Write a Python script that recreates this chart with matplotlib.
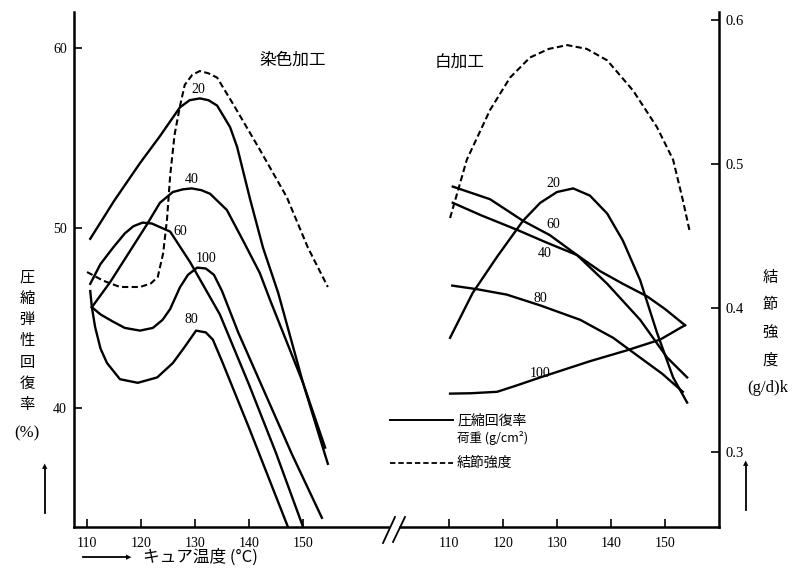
import matplotlib
matplotlib.use('Agg')
import matplotlib.pyplot as plt
from matplotlib.lines import Line2D

# fonts: Japanese text in Noto CJK, numbers in a serif face
JP = ['Noto Sans CJK JP', 'DejaVu Sans']
SERIF = 'Liberation Serif'
plt.rcParams['font.family'] = JP

# ---- data ----
# left panel: 染色加工, compression recovery (%) per load (g/cm2)
dye_20_x = [110.6, 115, 119.8, 123.5, 127.2, 129, 130.9, 132.5, 134.1, 136.5, 137.8, 140.2, 142.6, 145.4, 150, 154.1]
dye_20_y = [49.4, 51.5, 53.6, 55.1, 56.7, 57.1, 57.2, 57.1, 56.8, 55.6, 54.5, 51.6, 48.9, 46.4, 41.4, 37.8]
dye_40_x = [110.9, 114.3, 121.1, 123.5, 125.9, 127.8, 129.4, 131.2, 132.8, 135.9, 138.9, 142, 143.9, 150, 154.6]
dye_40_y = [45.6, 47.0, 50.2, 51.4, 52.0, 52.15, 52.2, 52.1, 51.9, 51.0, 49.3, 47.5, 46.0, 41.4, 36.9]
dye_60_x = [110.6, 112.5, 114.8, 117, 118.6, 120.3, 122, 125.4, 129.1, 134.6, 140, 145, 150]
dye_60_y = [46.9, 48.0, 48.9, 49.7, 50.1, 50.3, 50.25, 49.8, 48.1, 45.2, 41.3, 37.5, 33.4]
dye_80_x = [110.6, 110.9, 111.5, 112.5, 113.7, 116.1, 119.4, 123, 125.9, 128.1, 130.2, 132, 133.3, 135, 140, 147.2]
dye_80_y = [46.5, 45.6, 44.5, 43.3, 42.5, 41.6, 41.4, 41.7, 42.5, 43.4, 44.3, 44.2, 43.8, 42.6, 38.9, 33.4]
dye_100_x = [110.9, 112.5, 114.8, 117, 119.8, 122.2, 124, 125.4, 127.2, 128.7, 130.4, 132, 133.5, 135, 138, 143, 148, 153.5]
dye_100_y = [45.6, 45.2, 44.8, 44.45, 44.3, 44.45, 44.9, 45.5, 46.7, 47.4, 47.8, 47.75, 47.4, 46.5, 44.2, 40.8, 37.4, 33.9]
# left panel knot strength (g/d)
dye_str_x = [110, 113, 116.1, 119.8, 121.8, 123.1, 124.1, 124.8, 125.4, 126.2, 127.2, 128.1, 129.5, 130.9, 132.5,
             134.1, 137, 142, 147, 150.9, 154.6]
dye_str_y = [0.425, 0.419, 0.4146, 0.4146, 0.417, 0.4215, 0.438, 0.461, 0.492, 0.52, 0.540, 0.555, 0.562, 0.5646,
             0.563, 0.560, 0.542, 0.510, 0.477, 0.442, 0.4146]

# right panel: 白加工
wht_20_x = [110.2, 114.4, 118.9, 123.7, 126.9, 130, 133, 136.1, 139.3, 142.2, 145.4, 148.5, 151.5, 154.1]
wht_20_y = [43.9, 46.4, 48.4, 50.4, 51.4, 52.0, 52.2, 51.8, 50.8, 49.3, 47.1, 44.2, 41.7, 40.3]
wht_40_x = [110.7, 116, 122.6, 128, 133.7, 138, 142.2, 146.7, 150, 153.7]
wht_40_y = [51.4, 50.7, 49.9, 49.2, 48.5, 47.6, 46.9, 46.2, 45.5, 44.6]
wht_60_x = [110.7, 117.6, 123.7, 128.7, 133.7, 139.3, 145.4, 150.4, 154.1]
wht_60_y = [52.3, 51.6, 50.4, 49.6, 48.5, 46.9, 44.9, 42.8, 41.7]
wht_80_x = [110.6, 115.2, 120.7, 126.9, 134.3, 140.4, 145.4, 149.5, 153.3]
wht_80_y = [46.8, 46.6, 46.3, 45.7, 44.9, 43.9, 42.8, 41.9, 40.9]
wht_100_x = [110.2, 114, 118.9, 122.5, 126.9, 131.5, 136.1, 142.9, 149.1, 153.7]
wht_100_y = [40.8, 40.82, 40.9, 41.25, 41.7, 42.15, 42.6, 43.2, 43.8, 44.6]
wht_str_x = [110.2, 113.3, 117.6, 121.3, 125, 128.5, 131.9, 135.5, 139.3, 144.1, 148.5, 151.5, 153.3, 154.6]
wht_str_y = [0.4625, 0.503, 0.5375, 0.560, 0.574, 0.580, 0.5826, 0.580, 0.572, 0.551, 0.5257, 0.503, 0.475, 0.4528]

# curve labels: (text, x, y)
dye_labels = [('20', 130.6, 57.7), ('40', 129.4, 52.7), ('60', 127.2, 49.8),
              ('100', 132.0, 48.3), ('80', 129.4, 44.9)]
wht_labels = [('20', 129.3, 52.5), ('60', 129.3, 50.2), ('40', 127.8, 48.6),
              ('80', 126.9, 46.1), ('100', 126.9, 41.9)]

x_ticks = [110, 120, 130, 140, 150]
rec_ticks = [40, 50, 60]
str_ticks = [0.3, 0.4, 0.5, 0.6]

W, H = 804, 574


def fx(px):
    return px / W


def fy(py):
    return 1 - py / H


def serif_ticks(ax):
    for t in ax.get_xticklabels() + ax.get_yticklabels():
        t.set_fontfamily(SERIF)


fig = plt.figure(figsize=(8.04, 5.74), dpi=100)
ax1 = fig.add_axes([fx(74), fy(527), fx(388) - fx(74), fy(12) - fy(527)])
ax2 = fig.add_axes([fx(400), fy(527), fx(719) - fx(400), fy(12) - fy(527)])
ax1s = ax1.twinx()
ax2s = ax2.twinx()

ax1.set_xlim(107.59, 165.74)
ax2.set_xlim(100.93, 160.0)
for ax in (ax1, ax2):
    ax.set_ylim(33.39, 62.0)
for ax in (ax1s, ax2s):
    ax.set_ylim(0.2479, 0.6056)

lw = 1.7
for xs, ys in [(dye_20_x, dye_20_y), (dye_40_x, dye_40_y), (dye_60_x, dye_60_y),
               (dye_80_x, dye_80_y), (dye_100_x, dye_100_y)]:
    ax1.plot(xs, ys, color='black', lw=lw, solid_joinstyle='round', clip_on=False)
for xs, ys in [(wht_20_x, wht_20_y), (wht_40_x, wht_40_y), (wht_60_x, wht_60_y),
               (wht_80_x, wht_80_y), (wht_100_x, wht_100_y)]:
    ax2.plot(xs, ys, color='black', lw=lw, solid_joinstyle='round', clip_on=False)
ax1s.plot(dye_str_x, dye_str_y, color='black', lw=1.5, ls=(0, (3, 1.6)))
ax2s.plot(wht_str_x, wht_str_y, color='black', lw=1.5, ls=(0, (3, 1.6)))

for txt, x, y in dye_labels:
    ax1.text(x, y, txt, ha='center', va='center', fontsize=10, family=SERIF)
for txt, x, y in wht_labels:
    ax2.text(x, y, txt, ha='center', va='center', fontsize=10, family=SERIF)

# axes styling
for ax in (ax1, ax2, ax1s, ax2s):
    for s in ax.spines.values():
        s.set_visible(False)
        s.set_linewidth(1.8)
ax1.spines['left'].set_visible(True)
ax1.spines['bottom'].set_visible(True)
ax2.spines['bottom'].set_visible(True)
ax2s.spines['right'].set_visible(True)

ax1.set_xticks(x_ticks)
ax1.set_yticks(rec_ticks)
ax1.tick_params(axis='x', direction='in', length=6, width=1.2, labelsize=10, pad=7)
ax1.tick_params(axis='y', direction='in', length=6, width=1.2, labelsize=10, pad=5)
ax2.set_xticks(x_ticks)
ax2.set_yticks([])
ax2.tick_params(axis='x', direction='in', length=6, width=1.2, labelsize=10, pad=7)
ax1s.set_yticks([])
ax2s.set_yticks(str_ticks)
ax2s.set_yticklabels(['0.3', '0.4', '0.5', '0.6'])
ax2s.tick_params(axis='y', direction='in', length=6, width=1.2, labelsize=10.5, pad=5)
for ax in (ax1, ax2, ax2s):
    serif_ticks(ax)

# panel titles
fig.text(fx(293), fy(60), '染色加工', ha='center', va='center', fontsize=12)
fig.text(fx(460), fy(62), '白加工', ha='center', va='center', fontsize=12)

# left axis title, written vertically
for i, ch in enumerate('圧縮弾性回復率'):
    fig.text(fx(27), fy(277 + i * 21.3), ch, ha='center', va='center', fontsize=11)
fig.text(fx(27), fy(433), '(%)', ha='center', va='center', fontsize=12, family=SERIF)
fig.add_artist(Line2D([fx(45), fx(45)], [fy(513), fy(468)], color='black', lw=1.3))
fig.text(fx(45), fy(466), '▲', ha='center', va='center', fontsize=5, family='DejaVu Sans')

# right axis title
for i, ch in enumerate('結節強度'):
    fig.text(fx(770), fy(277 + i * 27.7), ch, ha='center', va='center', fontsize=11)
fig.text(fx(768), fy(388), '(g/d)k', ha='center', va='center', fontsize=12, family=SERIF)
fig.add_artist(Line2D([fx(746), fx(746)], [fy(510), fy(465)], color='black', lw=1.3))
fig.text(fx(746), fy(463), '▲', ha='center', va='center', fontsize=5, family='DejaVu Sans')

# x axis title with arrow
fig.add_artist(Line2D([fx(83), fx(126)], [fy(557), fy(557)], color='black', lw=1.3))
fig.text(fx(129), fy(557), '▶', ha='center', va='center', fontsize=5, family='DejaVu Sans')
fig.text(fx(143), fy(557), 'キュア温度 (°C)', ha='left', va='center', fontsize=12)

# legend
fig.add_artist(Line2D([fx(390), fx(453)], [fy(420), fy(420)], color='black', lw=1.4))
fig.text(fx(457), fy(421), '圧縮回復率', ha='left', va='center', fontsize=10)
fig.text(fx(457), fy(438), '荷重 (g/cm²)', ha='left', va='center', fontsize=9)
fig.add_artist(Line2D([fx(390), fx(453)], [fy(463), fy(463)], color='black', lw=1.3,
                      ls=(0, (3, 1.6))))
fig.text(fx(457), fy(463), '結節強度', ha='left', va='center', fontsize=10)

# axis break marks
fig.add_artist(Line2D([fx(383), fx(395)], [fy(543), fy(517)], color='black', lw=1.3))
fig.add_artist(Line2D([fx(393), fx(405)], [fy(542), fy(517)], color='black', lw=1.3))

fig.savefig('out.png', dpi=100)
